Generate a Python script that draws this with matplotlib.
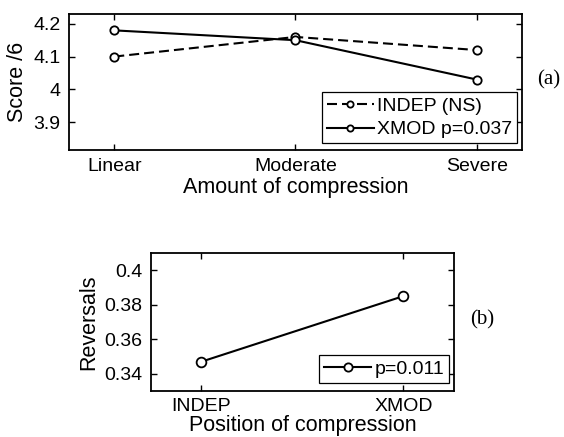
import matplotlib
matplotlib.use("Agg")
from matplotlib import pyplot as plt

# Dati
compressione = ["Linear", "Moderate", "Severe"]
indep_score = [4.10, 4.16, 4.12]
xmod_score = [4.18, 4.15, 4.03]

posizioni = ["INDEP", "XMOD"]
reversals = [0.347, 0.385]

plt.rcParams["font.family"] = ["Liberation Sans", "DejaVu Sans"]
plt.rcParams["font.size"] = 14


def stile_assi(ax):
    ax.tick_params(direction="in", top=True, right=True, length=4, width=1, labelsize=14, pad=6)
    for s in ax.spines.values():
        s.set_linewidth(1.3)


def stile_legenda(leg):
    leg.get_frame().set_linewidth(0.9)


fig = plt.figure(figsize=(5.64, 4.37), dpi=100)

# Pannello (a)
ax1 = fig.add_axes([0.1223, 0.6568, 0.8032, 0.3112])
x1 = range(1, len(compressione) + 1)
ax1.plot(x1, indep_score, "o", ls=(0, (4.8, 2.4)), color="black", lw=1.5, ms=6, mfc="white", mew=1.3,
         label="INDEP (NS)")
ax1.plot(x1, xmod_score, "-o", color="black", lw=1.5, ms=6, mfc="white", mew=1.3, label="XMOD p=0.037")
ax1.set_xlim(0.75, 3.25)
ax1.set_ylim(3.815, 4.23)
ax1.set_xticks(list(x1))
ax1.set_xticklabels(compressione)
ax1.set_yticks([3.9, 4.0, 4.1, 4.2])
ax1.set_yticklabels(["3.9", "4", "4.1", "4.2"])
ax1.set_xlabel("Amount of compression", fontsize=15.5, labelpad=1)
ax1.set_ylabel("Score /6", fontsize=15.5, labelpad=4)
stile_assi(ax1)
leg1 = ax1.legend(loc="lower right", bbox_to_anchor=(0.99, 0.05), fancybox=False, edgecolor="black",
                  framealpha=1, handlelength=2.4, borderpad=0.25, labelspacing=0.3, handletextpad=0.2,
                  borderaxespad=0, fontsize=14, markerscale=0.75)
stile_legenda(leg1)
fig.text(0.952, 0.818, "(a)", family="Liberation Serif", fontsize=15, va="center", ha="left")

# Pannello (b)
ax2 = fig.add_axes([0.2677, 0.1053, 0.5372, 0.3158])
x2 = range(1, len(posizioni) + 1)
ax2.plot(x2, reversals, "-o", color="black", lw=1.5, ms=7, mfc="white", mew=1.3, label="p=0.011")
ax2.set_xlim(0.75, 2.25)
ax2.set_ylim(0.33, 0.41)
ax2.set_xticks(list(x2))
ax2.set_xticklabels(posizioni)
ax2.set_yticks([0.34, 0.36, 0.38, 0.4])
ax2.set_yticklabels(["0.34", "0.36", "0.38", "0.4"])
ax2.set_xlabel("Position of compression", fontsize=15.5, labelpad=0)
ax2.set_ylabel("Reversals", fontsize=15.5, labelpad=4)
stile_assi(ax2)
ax2.tick_params(axis="x", pad=5)
leg2 = ax2.legend(loc="lower right", bbox_to_anchor=(0.985, 0.06), fancybox=False, edgecolor="black",
                  framealpha=1, handlelength=2.4, borderpad=0.25, handletextpad=0.2,
                  borderaxespad=0, fontsize=14, markerscale=0.85)
stile_legenda(leg2)
fig.text(0.834, 0.268, "(b)", family="Liberation Serif", fontsize=15, va="center", ha="left")

fig.savefig("out.png", dpi=100)
